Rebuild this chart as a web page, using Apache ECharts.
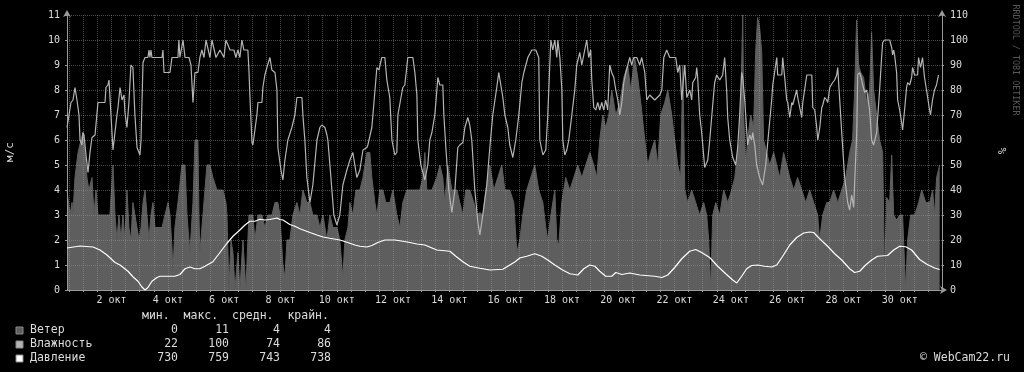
<!DOCTYPE html>
<html><head><meta charset="utf-8">
<script src="https://cdn.jsdelivr.net/npm/echarts@6/dist/echarts.min.js"></script>
<style>html,body{margin:0;padding:0;background:#000;}#c{width:1024px;height:372px;}</style>
</head><body><div id="c"></div>
<script>
// time axis: hours since 30 Sep 10:00 (31-day window)
const xLabelDays = [2,4,6,8,10,12,14,16,18,20,22,24,26,28,30];
const leftTicks = [0,1,2,3,4,5,6,7,8,9,10,11];
const rightTicks = [0,10,20,30,40,50,60,70,80,90,100,110];

// Ветер, м/с  [hour, value]
const wind = [[0,4.0],[1.7,4.0],[2.6,3.0],[4.3,3.5],[5.1,3.0],[6.8,4.5],[9.4,5.5],[11.9,6.0],[13.6,6.3],[15.3,5.5],[17.0,4.5],[18.7,4.0],[21.3,4.5],[23.0,3.0],[24.7,4.0],[26.4,3.0],[31.5,3.0],[36.6,3.0],[38.3,3.0],[39.2,5.0],[40.9,3.0],[42.6,2.0],[44.3,3.0],[46.0,2.0],[47.7,3.0],[49.4,2.0],[51.1,4.0],[52.8,2.5],[54.5,2.0],[56.2,3.5],[57.9,3.0],[59.7,2.5],[61.4,2.0],[63.1,2.5],[64.8,3.5],[66.5,4.0],[68.2,3.0],[69.9,2.0],[71.6,3.0],[73.3,3.5],[75.0,2.5],[77.6,2.5],[81.0,2.5],[83.5,3.0],[86.1,3.5],[87.8,3.0],[89.5,1.7],[90.3,0.7],[92.0,2.5],[94.6,3.5],[98.0,5.0],[100.6,5.0],[102.3,3.0],[104.8,1.5],[107.4,3.5],[109.1,6.0],[111.6,6.0],[112.5,3.0],[113.3,1.5],[115.9,3.0],[119.3,5.0],[121.9,5.0],[124.4,4.5],[127.8,4.0],[132.9,4.0],[135.5,3.5],[136.4,3.0],[138.1,0],[139.8,2.0],[141.5,1.5],[143.2,0],[145.7,1.5],[147.4,0],[149.1,0],[150.0,2.0],[151.7,2.0],[152.5,0],[154.2,0],[155.1,3.0],[158.5,3.0],[160.2,2.0],[162.8,3.0],[166.2,3.0],[168.7,2.5],[171.3,3.0],[174.7,3.0],[177.3,3.5],[179.8,3.5],[181.5,3.0],[184.1,1.0],[185.8,0.5],[187.5,2.0],[190.0,2.0],[192.6,3.0],[196.0,3.5],[198.6,3.0],[201.1,4.0],[204.5,3.5],[207.1,3.5],[209.6,3.0],[213.1,3.0],[215.6,2.5],[218.2,3.0],[221.6,2.0],[224.1,3.0],[226.7,2.5],[230.1,2.5],[232.6,2.0],[235.2,0.5],[236.9,2.0],[239.5,2.5],[241.2,3.5],[243.7,3.0],[246.3,4.0],[249.7,4.0],[252.3,4.5],[255.7,5.5],[258.2,5.5],[259.9,4.5],[262.5,3.5],[264.2,3.0],[266.7,4.0],[269.3,4.0],[271.8,3.5],[275.3,3.5],[277.8,4.0],[281.2,3.0],[283.8,2.5],[286.3,3.5],[289.7,4.0],[292.3,4.0],[296.6,4.0],[300.8,4.0],[303.4,4.5],[305.1,5.5],[306.8,4.0],[311.1,4.0],[315.3,4.5],[317.9,5.0],[320.4,4.5],[322.1,3.5],[324.7,5.0],[328.1,4.0],[332.4,4.0],[334.9,3.5],[337.5,3.0],[340.0,4.0],[343.4,4.0],[346.8,3.5],[349.4,3.0],[352.0,3.1],[354.5,3.0],[357.1,4.0],[360.5,5.0],[363.9,4.0],[367.3,4.5],[370.7,5.0],[373.3,4.0],[377.5,4.0],[380.9,3.5],[383.5,1.5],[386.0,2.0],[388.6,3.0],[392.0,4.0],[395.4,4.5],[398.8,5.0],[402.2,4.0],[405.7,3.5],[408.2,2.5],[409.9,2.0],[412.5,3.0],[415.9,4.0],[417.6,2.0],[419.3,1.8],[421.8,3.5],[425.2,4.5],[428.7,4.0],[432.1,4.5],[435.5,5.0],[438.9,4.5],[442.3,5.0],[445.7,5.5],[449.1,5.0],[451.7,4.5],[454.2,6.0],[456.8,7.0],[459.3,6.5],[461.9,7.0],[464.4,8.0],[467.9,7.0],[471.3,7.5],[474.7,8.5],[478.1,9.0],[480.6,8.0],[484.0,9.3],[486.6,8.5],[489.2,7.5],[492.6,6.0],[495.1,5.0],[497.7,5.5],[501.1,6.0],[503.6,5.0],[506.2,7.0],[509.6,7.5],[512.2,8.0],[515.6,7.0],[518.1,6.0],[520.7,5.0],[523.2,4.5],[525.0,9.0],[526.7,4.0],[529.2,3.5],[532.6,4.0],[536.0,3.5],[539.4,3.0],[542.8,3.5],[545.4,3.0],[547.1,2.0],[548.8,0],[550.5,3.0],[553.1,3.5],[556.5,3.0],[559.9,4.0],[563.3,3.5],[566.7,4.0],[569.3,4.5],[571.8,5.5],[573.5,6.0],[575.2,9.0],[576.1,11.0],[576.9,7.0],[578.6,5.0],[580.3,6.0],[582.9,7.0],[585.4,6.5],[587.1,9.5],[588.8,10.9],[590.5,10.5],[592.3,9.5],[593.9,6.0],[596.5,5.5],[599.1,5.0],[602.5,5.5],[605.1,5.0],[607.6,4.5],[611.0,5.5],[613.6,5.0],[616.2,4.5],[619.6,4.0],[622.9,4.5],[626.4,4.0],[629.8,3.5],[633.2,4.0],[636.6,3.5],[640.0,3.0],[641.7,2.0],[644.3,3.0],[647.7,3.5],[650.2,3.5],[653.6,4.0],[657.1,3.5],[660.5,4.0],[663.9,4.5],[667.3,5.5],[669.8,6.0],[671.5,8.0],[673.2,10.8],[674.9,9.0],[676.7,8.7],[679.2,8.5],[681.8,7.5],[684.3,8.0],[686.0,10.3],[687.7,8.0],[690.3,7.0],[692.8,6.0],[695.4,5.5],[697.1,0.4],[698.8,3.7],[701.4,3.5],[703.1,5.4],[704.8,3.0],[707.3,2.8],[709.9,3.0],[712.4,3.0],[714.1,3.0],[715.0,0],[716.7,2.0],[719.3,3.0],[722.7,3.0],[726.1,3.5],[728.7,4.0],[732.1,3.5],[735.5,3.5],[738.0,4.0],[739.7,3.0],[741.4,4.5],[744.0,5.0]];

// Влажность, %  [hour, value]
const humidity = [[0,65],[1.7,70],[3.4,75],[5.1,76],[6.8,81],[8.5,76],[10.2,70],[11.1,60],[12.8,58],[13.6,63],[14.5,62],[16.2,54],[17.9,47],[19.6,55],[21.3,61],[23.9,62],[26.4,75],[32.4,75],[33.2,81],[34.9,82],[35.8,84],[37.5,70],[39.2,56],[40.9,56],[42.6,70],[43.5,73],[45.2,81],[46.9,76],[48.6,78],[49.4,71],[51.1,65],[52.8,75],[54.5,90],[56.2,89],[57.9,70],[59.7,57],[62.2,54],[63.1,60],[64.8,91],[66.5,93],[69.0,93],[69.9,96],[70.7,93],[71.6,96],[72.4,93],[81.0,93],[81.8,96],[82.7,87],[87.8,87],[89.5,93],[94.6,93],[95.4,100],[96.3,93],[98.0,93],[98.9,100],[100.6,93],[104.0,93],[105.7,90],[107.4,75],[109.1,87],[111.6,87],[113.3,93],[115.0,96],[116.8,93],[118.5,100],[120.2,100],[121.9,93],[123.6,100],[125.3,100],[127.0,93],[128.7,93],[130.4,96],[132.1,96],[133.8,93],[135.5,100],[137.2,100],[139.0,96],[142.3,96],[144.0,93],[145.7,96],[147.4,93],[149.1,100],[150.8,96],[154.2,96],[155.1,88],[156.0,77],[157.7,59],[158.5,58],[160.2,58],[161.9,70],[162.8,75],[166.2,75],[167.0,81],[168.7,86],[170.4,89],[173.0,93],[174.7,88],[177.3,87],[179.0,80],[179.8,57],[182.4,48],[184.1,44],[185.8,52],[188.3,60],[191.7,65],[194.3,70],[196.0,77],[200.3,77],[201.1,70],[202.8,60],[204.5,45],[207.1,35],[209.6,42],[213.1,60],[215.6,65],[217.3,66],[219.9,65],[221.6,62],[222.4,60],[225.0,45],[227.5,30],[230.1,26],[232.6,30],[235.2,42],[238.6,48],[241.2,52],[243.7,55],[245.4,50],[247.1,45],[249.7,48],[252.3,56],[255.7,57],[256.5,58],[259.9,65],[261.6,65],[264.2,89],[265.9,88],[268.4,93],[271.0,93],[272.7,84],[275.2,77],[277.0,60],[279.5,54],[281.2,55],[282.1,70],[285.5,79],[286.3,81],[288.0,82],[290.6,93],[294.9,93],[296.6,87],[298.3,78],[299.1,60],[301.7,50],[305.1,44],[307.6,50],[309.3,60],[311.1,63],[313.6,70],[316.2,85],[317.9,82],[320.4,82],[321.3,70],[323.0,57],[325.5,40],[328.1,31],[330.7,40],[333.2,57],[334.9,58],[337.5,59],[339.2,65],[341.7,69],[343.4,66],[345.1,60],[347.7,40],[350.3,27],[352.0,22],[354.5,30],[357.9,42],[360.5,57],[363.0,70],[366.4,81],[368.1,87],[371.6,77],[373.3,70],[375.8,65],[377.5,58],[380.1,53],[382.6,60],[385.2,70],[387.8,83],[389.5,87],[392.9,93],[396.3,96],[399.7,96],[402.2,93],[403.1,60],[405.7,54],[408.2,56],[409.9,70],[411.6,90],[412.5,100],[414.2,96],[415.9,100],[417.6,93],[418.5,100],[420.2,93],[421.9,80],[422.7,60],[424.4,54],[426.1,56],[427.8,60],[430.4,70],[432.9,80],[434.6,90],[437.2,95],[438.9,90],[441.4,96],[443.1,100],[444.8,93],[446.5,96],[447.4,84],[449.1,73],[450.8,72],[452.5,75],[454.2,72],[455.9,75],[457.6,72],[459.3,76],[461.0,72],[462.7,90],[464.4,87],[466.2,85],[467.9,80],[469.6,76],[471.3,70],[473.0,75],[474.7,83],[476.4,87],[478.1,90],[479.8,93],[481.5,90],[483.2,93],[485.8,93],[488.3,90],[490.0,93],[492.6,87],[494.3,76],[496.8,78],[501.1,76],[505.4,78],[507.1,80],[508.8,93],[511.3,96],[513.9,93],[519.0,93],[520.7,87],[522.4,90],[524.1,76],[526.7,90],[528.4,77],[531.0,80],[532.6,76],[533.5,83],[536.0,85],[536.9,89],[537.7,85],[539.4,70],[541.1,63],[543.7,49],[546.3,52],[548.0,60],[550.5,74],[552.2,83],[553.9,86],[556.5,84],[558.2,84],[559.0,86],[560.7,93],[562.4,80],[563.3,69],[565.0,60],[567.6,53],[570.1,50],[571.8,57],[573.5,70],[575.2,87],[576.1,85],[577.8,76],[580.3,58],[582.0,62],[583.7,60],[584.6,63],[586.3,58],[588.0,50],[590.5,45],[593.1,42],[595.7,50],[598.2,63],[600.8,76],[601.7,82],[605.1,93],[605.9,86],[609.4,86],[610.2,93],[611.9,85],[613.6,76],[614.5,75],[616.2,69],[617.9,75],[618.7,74],[622.1,80],[623.0,77],[624.7,73],[626.4,69],[627.3,75],[630.7,86],[635.0,86],[635.8,73],[637.5,72],[639.2,65],[640.1,60],[641.8,65],[643.5,73],[644.3,74],[646.0,77],[647.7,76],[648.6,75],[650.3,81],[652.8,83],[654.5,84],[656.2,86],[657.1,89],[658.8,76],[660.5,63],[663.0,45],[665.6,35],[667.3,32],[669.0,38],[670.7,33],[673.3,63],[674.1,86],[675.8,87],[677.5,84],[678.4,82],[680.1,79],[681.8,80],[682.6,80],[684.3,72],[686.0,60],[687.7,58],[690.3,63],[692.8,80],[694.5,93],[695.4,99],[697.1,100],[701.4,100],[703.1,97],[703.9,94],[704.8,96],[705.6,94],[707.3,87],[708.2,76],[709.9,72],[711.6,67],[712.4,64],[714.1,72],[715.8,81],[716.7,83],[718.4,82],[720.1,85],[720.9,89],[722.6,86],[725.2,86],[726.0,93],[727.7,89],[729.4,93],[731.1,85],[732.8,80],[733.7,80],[735.4,72],[736.2,70],[737.9,76],[739.6,80],[741.3,82],[743.0,86]];

// Давление, мм рт. ст.  [hour, value]
const pressure = [[0,746.8],[11.1,747.6],[22.2,747.2],[28.1,746],[34.1,744],[40.9,741],[45.2,740],[52.0,737.5],[56.2,735.3],[60.5,733.5],[63.9,731.2],[66.5,730],[69.0,731],[72.4,733.5],[76.7,735],[79.3,735.5],[87.8,735.5],[92.0,735.5],[96.3,736.2],[100.6,738.5],[104.8,739.2],[109.1,738.5],[113.3,738.5],[117.6,739.5],[124.4,741.3],[130.4,745],[136.4,748.7],[141.5,751.5],[147.4,754],[151.7,756],[156.0,757.5],[160.2,757.5],[164.5,758.3],[168.7,758],[173.0,758.2],[179.0,758.8],[181.5,758.2],[184.1,758],[190.0,756.2],[194.3,755.5],[198.6,754.5],[207.1,753],[213.1,752],[218.2,751.2],[224.1,750.7],[232.6,750],[241.2,748.7],[245.4,748],[249.7,747.5],[255.7,747.2],[259.9,747.8],[265.0,749],[271.0,750],[279.5,750],[283.8,749.7],[292.3,749],[298.3,748.4],[305.1,748],[315.3,746],[326.4,745.5],[331.5,743.5],[337.5,741.3],[343.4,739.5],[352.0,738.7],[360.5,738],[371.6,738.3],[377.5,740],[381.8,741.2],[386.0,742.8],[392.0,743.5],[398.8,744.5],[404.8,743.5],[409.9,742],[415.9,740],[421.8,738.2],[428.7,736.5],[435.5,736],[440.6,738.5],[445.7,740],[450.0,739.5],[454.2,737.5],[459.3,735.5],[464.4,735.5],[467.9,737],[473.0,736.2],[479.8,736.8],[488.3,736],[501.1,735.5],[507.1,735],[512.2,736],[518.1,739],[524.1,742.5],[530.9,745.5],[536.0,746.2],[541.1,745],[547.9,743],[554.8,739.5],[561.6,736.5],[567.6,734],[571.0,732.8],[575.2,735.5],[579.5,738.5],[583.7,739.8],[588.8,740],[594.8,739.5],[600.8,739.2],[605.1,740],[610.2,743.5],[616.2,748],[622.1,751],[628.1,752.8],[633.2,753.2],[636.6,753],[641.7,750.5],[648.5,747.5],[654.5,744.5],[660.5,742],[667.3,738.5],[671.5,737],[675.8,737.5],[680.9,740],[686.0,742],[691.1,743.5],[699.6,743.8],[704.8,746],[709.9,747.5],[715.0,747.3],[720.1,746],[726.9,742.2],[733.4,740.2],[739.7,738.8],[744.0,738.2]];

const legendNames = ['Ветер','Влажность','Давление'];
const legendMin = ['0','22','730'];
const legendMax = ['11','100','759'];
const legendAvg = ['4','74','743'];
const legendLast = ['4','86','738'];
const legendHeader = 'мин.  макс.  средн.  крайн.';

// ---- style ----
const FONT = '"DejaVu Sans Mono", monospace';
const C_TEXT = '#dcdcdc';
const C_AXIS = '#9a9a9a';
const C_GRID = 'rgba(150,150,150,0.5)';
const seriesColors = ['#5e5e5e', '#b4b4b4', '#ffffff'];
const X_START_TO_OCT2 = 38; // hours from window start to 2 Oct 00:00
const gridHours = [];
for (let h = 2; h <= 746; h += 12) gridHours.push(h);
const labelHours = xLabelDays.map(d => X_START_TO_OCT2 + (d - 2) * 24);

const chart = echarts.init(document.getElementById('c'), null, {renderer: 'canvas'});

const rowY = [330.5, 344.5, 358.5];
const colRight = [178, 229, 280, 331];
const graphics = [];
graphics.push({type:'text', x:142, y:316, style:{text:legendHeader, font:'11.5px ' + FONT, fill:C_TEXT, align:'left', verticalAlign:'middle', textAlign:'left', textVerticalAlign:'middle'}});
legendNames.forEach((n, i) => {
  graphics.push({type:'rect', shape:{x:16, y:rowY[i]-3.5, width:7, height:7}, style:{fill:seriesColors[i], stroke:'#8a8a8a', lineWidth:1}});
  graphics.push({type:'text', x:30, y:rowY[i], style:{text:n, font:'11.5px ' + FONT, fill:C_TEXT, align:'left', verticalAlign:'middle', textAlign:'left', textVerticalAlign:'middle'}});
  [legendMin[i], legendMax[i], legendAvg[i], legendLast[i]].forEach((v, j) => {
    graphics.push({type:'text', x:colRight[j], y:rowY[i], style:{text:v, font:'11.5px ' + FONT, fill:C_TEXT, align:'right', verticalAlign:'middle', textAlign:'right', textVerticalAlign:'middle'}});
  });
});
graphics.push({type:'text', x:1010, y:358.5, style:{text:'© WebCam22.ru', font:'11.5px ' + FONT, fill:C_TEXT, align:'right', verticalAlign:'middle', textAlign:'right', textVerticalAlign:'middle'}});
graphics.push({type:'text', x:10.5, y:152, rotation:Math.PI/2, style:{text:'м/с', font:'11px ' + FONT, fill:C_TEXT, align:'center', verticalAlign:'middle', textAlign:'center', textVerticalAlign:'middle'}});
graphics.push({type:'text', x:1003, y:151, rotation:Math.PI/2, style:{text:'%', font:'11px ' + FONT, fill:C_TEXT, align:'center', verticalAlign:'middle', textAlign:'center', textVerticalAlign:'middle'}});
graphics.push({type:'text', x:1015, y:60, rotation:-Math.PI/2, style:{text:'RRDTOOL / TOBI OETIKER', font:'8.4px ' + FONT, fill:'#585858', align:'center', verticalAlign:'middle', textAlign:'center', textVerticalAlign:'middle'}});

const axisLineArrow = {show:true, symbol:['none','arrow'], symbolSize:[6,7], symbolOffset:[0,5], lineStyle:{color:C_AXIS, width:1}};

chart.setOption({
  backgroundColor:'#000',
  animation:false,
  grid:{left:67, top:15, width:875, height:275, containLabel:false},
  xAxis:{
    type:'value', min:0, max:746, z:1.5,
    axisLine:axisLineArrow,
    axisTick:{show:true, customValues:gridHours, length:2, lineStyle:{color:C_AXIS}},
    axisLabel:{customValues:labelHours, formatter:v => (2 + Math.round((v - X_START_TO_OCT2)/24)) + ' окт', color:C_TEXT, fontFamily:FONT, fontSize:10, margin:5},
    splitLine:{show:true, lineStyle:{color:C_GRID, width:1, type:[1,1]}}
  },
  yAxis:[
    {type:'value', min:0, max:11, interval:1, position:'left', z:1.5,
     axisLine:axisLineArrow,
     axisTick:{show:true, length:2, lineStyle:{color:C_AXIS}},
     axisLabel:{color:C_TEXT, fontFamily:FONT, fontSize:10, margin:7, formatter:v => leftTicks.includes(v) ? String(v) : ''},
     splitLine:{show:true, lineStyle:{color:C_GRID, width:1, type:[1,1]}}},
    {type:'value', min:0, max:110, interval:10, position:'right', z:1.5,
     axisLine:axisLineArrow,
     axisTick:{show:true, length:2, lineStyle:{color:C_AXIS}},
     axisLabel:{color:C_TEXT, fontFamily:FONT, fontSize:10, margin:8, formatter:v => rightTicks.includes(v) ? String(v) : ''},
     splitLine:{show:false}},
    {type:'value', min:730, max:840, show:false}
  ],
  graphic:graphics,
  series:[
    {name:legendNames[0], type:'line', data:wind, yAxisIndex:0, symbol:'none', z:1,
     lineStyle:{width:1, color:seriesColors[0]}, areaStyle:{color:seriesColors[0], opacity:1}},
    {name:legendNames[1], type:'line', data:humidity, yAxisIndex:1, symbol:'none', z:3,
     lineStyle:{width:1.2, color:seriesColors[1]}},
    {name:legendNames[2], type:'line', data:pressure, yAxisIndex:2, symbol:'none', z:4,
     lineStyle:{width:1.2, color:seriesColors[2]}}
  ]
});
</script>
</body></html>
